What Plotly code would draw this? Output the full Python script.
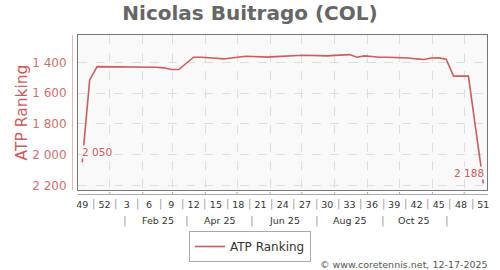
import plotly.graph_objects as go
import pandas as pd

# ---- data ----
ranking = [2050, 1515, 1428, 1428, 1429, 1429, 1428, 1428, 1428, 1430,
           1432, 1436, 1447, 1447, 1405, 1367, 1367, 1369, 1374, 1378,
           1372, 1366, 1361, 1362, 1366, 1366, 1363, 1362, 1360, 1356,
           1354, 1356, 1358, 1358, 1355, 1352, 1350, 1367, 1358, 1362,
           1367, 1367, 1368, 1369, 1372, 1378, 1382, 1372, 1371, 1380,
           1490, 1490, 1490, 1840, 2188]
first_date = "2024-12-06"
week_tick_labels = ["49", "52", "3", "6", "9", "12", "15", "18", "21", "24",
                    "27", "30", "33", "36", "39", "42", "45", "48", "51"]
month_labels = ["Feb 25", "Apr 25", "Jun 25", "Aug 25", "Oct 25"]
month_label_dates = ["2025-02-15", "2025-04-15", "2025-06-15", "2025-08-15", "2025-10-15"]
month_sep_dates = ["2025-01-15", "2025-03-15", "2025-05-15", "2025-07-15", "2025-09-15", "2025-11-15"]
y_tick_vals = [1400, 1600, 1800, 2000, 2200]
y_tick_text = ["1 400", "1 600", "1 800", "2 000", "2 200"]

dates = pd.date_range(first_date, periods=len(ranking), freq="7D")
tick_dates = dates[::3]
month_grid = pd.date_range("2025-01-01", "2025-12-01", freq="MS")

RED = "#cd5c5c"
PLOT_BG = "#f9f9f9"
L, R, T, B = 78, 13, 35, 80
W, H = 500, 270
pw, ph = W - L - R, H - T - B

def py(px):  # pixel (from top) -> paper y
    return (H - B - px) / ph

def pxx(px):
    return (px - L) / pw

fig = go.Figure()
fig.add_trace(go.Scatter(x=dates, y=ranking, mode="lines", name="ATP Ranking",
                         line=dict(color=RED, width=1.6)))

ann = []
ann.append(dict(x=dates[0], y=ranking[0], xref="x", yref="y", text="2 050",
                showarrow=False, xanchor="left", yanchor="bottom", xshift=-1, yshift=3,
                font=dict(size=10.5, color=RED, family="DejaVu Sans"), bgcolor=PLOT_BG, borderpad=0))
ann.append(dict(x=dates[-1], y=ranking[-1], xref="x", yref="y", text="2 188",
                showarrow=False, xanchor="right", yanchor="bottom", xshift=2, yshift=3,
                font=dict(size=10.5, color=RED, family="DejaVu Sans"), bgcolor=PLOT_BG, borderpad=0))
# separators between week labels
for d in tick_dates[:-1]:
    ann.append(dict(x=d + pd.Timedelta(days=10.5), y=py(204), xref="x", yref="paper", text="|",
                    showarrow=False, font=dict(size=10, color="#999999", family="DejaVu Sans"),
                    xanchor="center", yanchor="middle"))
for d in month_sep_dates:
    ann.append(dict(x=d, y=py(220.5), xref="x", yref="paper", text="|",
                    showarrow=False, font=dict(size=11, color="#999999", family="DejaVu Sans"),
                    xanchor="center", yanchor="middle"))
for d, t in zip(month_label_dates, month_labels):
    ann.append(dict(x=d, y=py(220.5), xref="x", yref="paper", text=t,
                    showarrow=False, font=dict(size=9.5, color="#333333", family="DejaVu Sans"),
                    xanchor="center", yanchor="middle"))
ann.append(dict(x=pxx(490), y=py(264.5), xref="paper", yref="paper",
                text="© www.coretennis.net, 12-17-2025", showarrow=False,
                xanchor="right", yanchor="middle",
                font=dict(size=9.5, color="#555555", family="DejaVu Sans")))

shapes = []
shapes.append(dict(type="line", xref="paper", yref="paper", x0=pxx(78), x1=pxx(488),
                   y0=py(194.5), y1=py(194.5), line=dict(color="#aaaaaa", width=1)))
shapes.append(dict(type="line", xref="paper", yref="paper", x0=pxx(72.5), x1=pxx(72.5),
                   y0=py(35), y1=py(190), line=dict(color="#e8b4b4", width=1)))
for d in month_grid:
    shapes.append(dict(type="line", xref="x", yref="paper", x0=d, x1=d,
                       y0=py(192), y1=py(195), line=dict(color="#aaaaaa", width=1)))

fig.update_layout(
    width=W, height=H,
    margin=dict(l=L, r=R, t=T, b=B, autoexpand=False),
    paper_bgcolor="white", plot_bgcolor=PLOT_BG,
    font=dict(family="DejaVu Sans"),
    title=dict(text="<b>Nicolas Buitrago (COL)</b>", x=0.5, xref="container", xanchor="center",
               y=1 - 13 / H, yref="container", yanchor="middle",
               font=dict(size=20, color="#666666", family="DejaVu Sans")),
    showlegend=True,
    legend=dict(orientation="h", x=pxx(250), xanchor="center", y=py(246.5), yanchor="middle",
                bgcolor="white", bordercolor="#aaaaaa", borderwidth=1,
                font=dict(size=12, color="#333333", family="DejaVu Sans")),
    xaxis=dict(
        range=["2024-12-02", "2025-12-22 12:00"],
        tickmode="array", tickvals=tick_dates, ticktext=week_tick_labels,
        ticks="outside", ticklen=6, tickcolor="rgba(0,0,0,0)",
        tickfont=dict(size=9.5, color="#333333", family="DejaVu Sans"),
        showgrid=False, zeroline=False,
        showline=True, linecolor="#777777", linewidth=1, mirror=True,
        minor=dict(tickmode="array", tickvals=month_grid, showgrid=True,
                   gridcolor="#dddddd", griddash="dash", gridwidth=1, ticks=""),
    ),
    yaxis=dict(
        range=[2230.6, 1222.4], autorange=False,
        tickmode="array", tickvals=y_tick_vals, ticktext=y_tick_text,
        ticks="outside", ticklen=8, tickcolor="rgba(0,0,0,0)",
        tickfont=dict(size=12, color="#cd6f6f", family="DejaVu Sans"),
        showgrid=True, gridcolor="#dddddd", griddash="dash", gridwidth=1,
        zeroline=False,
        showline=True, linecolor="#777777", linewidth=1, mirror=True,
        title=dict(text="ATP Ranking", standoff=0,
                   font=dict(size=15.5, color=RED, family="DejaVu Sans")),
    ),
    annotations=ann, shapes=shapes,
)

fig.write_html("out.html")
